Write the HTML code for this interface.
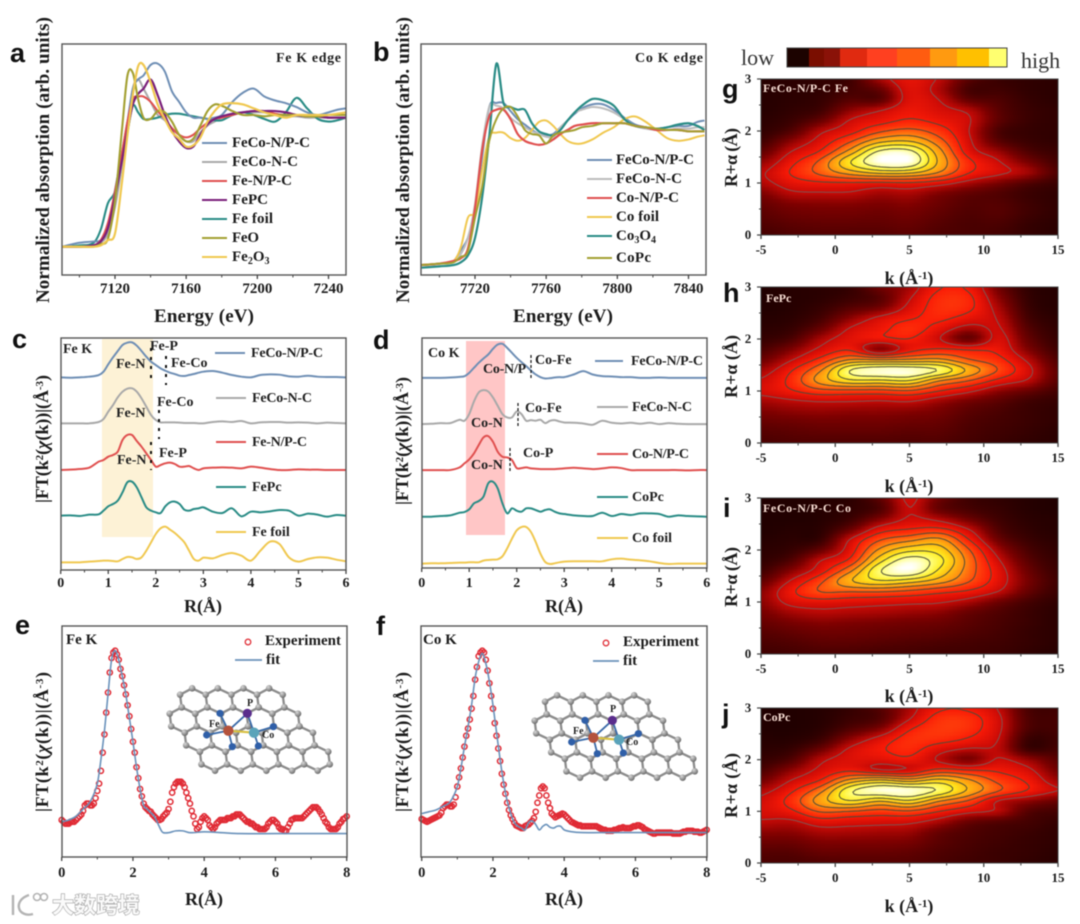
<!DOCTYPE html>
<html lang="en">
<head>
<meta charset="utf-8">
<title>XAS and EXAFS figure</title>
<style>
html,body{margin:0;padding:0;background:#fff;}
#figure{display:block;filter:blur(0.55px);}
text{font-family:"Liberation Serif","Noto Serif CJK SC",serif;font-weight:bold;fill:#1c1c1c;}
.letter{font-family:"Liberation Sans",sans-serif;font-size:27px;fill:#111;}
.axis{font-size:18px;}
.ytitle{font-size:19px;}
.leg{font-size:15px;}
.ann{font-size:14px;fill:#222;}
.atom{font-size:10px;fill:#222;}
.heat-title{font-size:12px;fill:#f6dcd2;}
.cb{font-weight:normal;font-size:22px;fill:#333;}
.frame{fill:none;stroke:#555;stroke-width:1.4;}
</style>
</head>
<body>
<svg id="figure" xmlns="http://www.w3.org/2000/svg" width="1080" height="924" viewBox="0 0 1080 924">
<defs>
<radialGradient id="atom-gray" cx="35%" cy="30%" r="75%"><stop offset="0" stop-color="#d8d8d8"/><stop offset="1" stop-color="#666"/></radialGradient>
<clipPath id="clip-g"><rect x="761" y="79" width="297" height="156"/></clipPath>
<clipPath id="clip-h"><rect x="761" y="287" width="297" height="156"/></clipPath>
<clipPath id="clip-i"><rect x="761" y="498" width="297" height="156"/></clipPath>
<clipPath id="clip-j"><rect x="761" y="708" width="297" height="155"/></clipPath>
</defs>
<rect x="0" y="0" width="1080" height="924" fill="#fff"/>

<!-- panel a -->
<g>
<text class="letter" x="10" y="62">a</text>
<g id="marks-a"></g>
<rect class="frame" x="62" y="44" width="284" height="231"/>
<g id="ticks-a"></g>
<text class="ytitle" transform="translate(49,303) rotate(-90)" textLength="286" lengthAdjust="spacing">Normalized absorption (arb. units)</text>
<text class="ytitle" x="204" y="322" text-anchor="middle" textLength="100">Energy (eV)</text>
<text class="ann" x="276" y="62" textLength="65">Fe K edge</text>
<g>
<path d="M202 143H227" stroke="#6f8fb5" stroke-width="2"/><text class="leg" x="232" y="147" textLength="78">FeCo-N/P-C</text>
<path d="M202 162H227" stroke="#a9a9a9" stroke-width="2"/><text class="leg" x="232" y="166" textLength="66">FeCo-N-C</text>
<path d="M202 181H227" stroke="#e0504f" stroke-width="2"/><text class="leg" x="232" y="185" textLength="60">Fe-N/P-C</text>
<path d="M202 200H227" stroke="#7a1f7a" stroke-width="2"/><text class="leg" x="232" y="204" textLength="36">FePC</text>
<path d="M202 219H227" stroke="#2a8c86" stroke-width="2"/><text class="leg" x="232" y="223" textLength="41">Fe foil</text>
<path d="M202 238H227" stroke="#a3a032" stroke-width="2"/><text class="leg" x="232" y="242" textLength="27">FeO</text>
<path d="M202 257H227" stroke="#f0c850" stroke-width="2"/><text class="leg" x="232" y="261">Fe<tspan dy="3" font-size="10">2</tspan><tspan dy="-3">O</tspan><tspan dy="3" font-size="10">3</tspan></text>
</g>
</g>

<!-- panel b -->
<g>
<text class="letter" x="373" y="61">b</text>
<g id="marks-b"></g>
<rect class="frame" x="421" y="44" width="285" height="231"/>
<g id="ticks-b"></g>
<text class="ytitle" transform="translate(409,303) rotate(-90)" textLength="286" lengthAdjust="spacing">Normalized absorption (arb. units)</text>
<text class="ytitle" x="563" y="322" text-anchor="middle" textLength="100">Energy (eV)</text>
<text class="ann" x="635" y="62" textLength="68">Co K edge</text>
<g>
<path d="M587 160H612" stroke="#6f8fb5" stroke-width="2"/><text class="leg" x="616" y="164" textLength="78">FeCo-N/P-C</text>
<path d="M587 179H612" stroke="#bdbdbd" stroke-width="2"/><text class="leg" x="616" y="183" textLength="66">FeCo-N-C</text>
<path d="M587 198H612" stroke="#e0504f" stroke-width="2"/><text class="leg" x="616" y="202" textLength="63">Co-N/P-C</text>
<path d="M587 217H612" stroke="#f0c850" stroke-width="2"/><text class="leg" x="616" y="221" textLength="43">Co foil</text>
<path d="M587 236H612" stroke="#2a8c86" stroke-width="2"/><text class="leg" x="616" y="240">Co<tspan dy="3" font-size="10">3</tspan><tspan dy="-3">O</tspan><tspan dy="3" font-size="10">4</tspan></text>
<path d="M587 258H612" stroke="#a3a032" stroke-width="2"/><text class="leg" x="616" y="262" textLength="35">CoPc</text>
</g>
</g>

<!-- panel c -->
<g>
<text class="letter" x="12" y="348">c</text>
<rect x="102" y="339" width="51" height="198" fill="#fdf2d6"/>
<g id="marks-c"></g>
<rect class="frame" x="61" y="338" width="285" height="232"/>
<g id="ticks-c"></g>
<text class="axis" transform="translate(48,503) rotate(-90)" textLength="128">|FT(k<tspan dy="-5" font-size="11">2</tspan><tspan dy="5">(</tspan><tspan font-style="italic">χ</tspan>(k))|(Å<tspan dy="-5" font-size="11">-3</tspan><tspan dy="5">)</tspan></text>
<text class="axis" x="203" y="612" text-anchor="middle">R(Å)</text>
<text class="ann" x="63" y="353">Fe K</text>
<text class="ann" x="150" y="350">Fe-P</text>
<text class="ann" x="116" y="368">Fe-N</text>
<text class="ann" x="171" y="367">Fe-Co</text>
<text class="ann" x="116" y="417">Fe-N</text>
<text class="ann" x="157" y="406">Fe-Co</text>
<text class="ann" x="117" y="464">Fe-N</text>
<text class="ann" x="159" y="457">Fe-P</text>
<g stroke="#111" stroke-width="2" stroke-dasharray="3 6" fill="none">
<path d="M151 348V382"/>
<path d="M166 356V385"/>
<path d="M159 410V439"/>
<path d="M151 442V470"/>
</g>
<g>
<path d="M215 353H245" stroke="#6f8fb5" stroke-width="2"/><text class="ann" x="251" y="357" textLength="72">FeCo-N/P-C</text>
<path d="M216 398H246" stroke="#a9a9a9" stroke-width="2"/><text class="ann" x="252" y="402" textLength="60">FeCo-N-C</text>
<path d="M216 442H246" stroke="#e0504f" stroke-width="2"/><text class="ann" x="252" y="446" textLength="55">Fe-N/P-C</text>
<path d="M216 487H246" stroke="#2a8c86" stroke-width="2"/><text class="ann" x="252" y="491">FePc</text>
<path d="M216 532H246" stroke="#f0c850" stroke-width="2"/><text class="ann" x="252" y="536">Fe foil</text>
</g>
</g>

<!-- panel d -->
<g>
<text class="letter" x="373" y="349">d</text>
<rect x="466" y="341" width="39" height="194" fill="#ffc6c6"/>
<g id="marks-d"></g>
<rect class="frame" x="422" y="338" width="285" height="230"/>
<g id="ticks-d"></g>
<text class="axis" transform="translate(408,505) rotate(-90)" textLength="128">|FT(k<tspan dy="-5" font-size="11">2</tspan><tspan dy="5">(</tspan><tspan font-style="italic">χ</tspan>(k))|(Å<tspan dy="-5" font-size="11">-3</tspan><tspan dy="5">)</tspan></text>
<text class="axis" x="564" y="612" text-anchor="middle">R(Å)</text>
<text class="ann" x="428" y="357">Co K</text>
<text class="ann" x="483" y="373" textLength="43">Co-N/P</text>
<text class="ann" x="535" y="364">Co-Fe</text>
<text class="ann" x="471" y="427">Co-N</text>
<text class="ann" x="525" y="412">Co-Fe</text>
<text class="ann" x="471" y="469">Co-N</text>
<text class="ann" x="523" y="457">Co-P</text>
<g stroke="#111" stroke-width="1.2" stroke-dasharray="3 2" fill="none">
<path d="M531 355V379"/>
<path d="M518 403V427"/>
<path d="M510 448V472"/>
</g>
<g>
<path d="M595 361H623" stroke="#6f8fb5" stroke-width="2"/><text class="ann" x="631" y="365" textLength="72">FeCo-N/P-C</text>
<path d="M597 407H628" stroke="#a9a9a9" stroke-width="2"/><text class="ann" x="632" y="411" textLength="60">FeCo-N-C</text>
<path d="M597 454H628" stroke="#e0504f" stroke-width="2"/><text class="ann" x="632" y="458" textLength="57">Co-N/P-C</text>
<path d="M597 497H628" stroke="#2a8c86" stroke-width="2"/><text class="ann" x="632" y="501">CoPc</text>
<path d="M597 538H628" stroke="#f0c850" stroke-width="2"/><text class="ann" x="632" y="542">Co foil</text>
</g>
</g>

<!-- panel e -->
<g>
<text class="letter" x="15" y="634">e</text>
<g id="marks-e"></g>
<g id="inset-e"></g>
<rect class="frame" x="62" y="626" width="285" height="231"/>
<g id="ticks-e"></g>
<text class="axis" transform="translate(48,812) rotate(-90)" textLength="140">|FT(k<tspan dy="-5" font-size="11">2</tspan><tspan dy="5">(</tspan><tspan font-style="italic">χ</tspan>(k))|(Å<tspan dy="-5" font-size="11">-3</tspan><tspan dy="5">)</tspan></text>
<text class="axis" x="204" y="905" text-anchor="middle">R(Å)</text>
<text class="leg" x="66" y="644">Fe K</text>
<circle cx="248" cy="642" r="2.8" fill="none" stroke="#e0323a" stroke-width="1.3"/>
<text class="leg" x="265" y="645" textLength="76">Experiment</text>
<path d="M235 660H262" stroke="#6a92bb" stroke-width="1.8"/>
<text class="leg" x="266" y="664">fit</text>
<text class="atom" x="209" y="727">Fe</text>
<text class="atom" x="247" y="706">P</text>
<text class="atom" x="262" y="738">Co</text>
</g>

<!-- panel f -->
<g>
<text class="letter" x="376" y="635">f</text>
<g id="marks-f"></g>
<g id="inset-f"></g>
<rect class="frame" x="421" y="626" width="286" height="231"/>
<g id="ticks-f"></g>
<text class="axis" transform="translate(408,812) rotate(-90)" textLength="140">|FT(k<tspan dy="-5" font-size="11">2</tspan><tspan dy="5">(</tspan><tspan font-style="italic">χ</tspan>(k))|(Å<tspan dy="-5" font-size="11">-3</tspan><tspan dy="5">)</tspan></text>
<text class="axis" x="564" y="905" text-anchor="middle">R(Å)</text>
<text class="leg" x="423" y="644">Co K</text>
<circle cx="606" cy="643" r="2.8" fill="none" stroke="#e0323a" stroke-width="1.3"/>
<text class="leg" x="623" y="646" textLength="76">Experiment</text>
<path d="M593 661H619" stroke="#6a92bb" stroke-width="1.8"/>
<text class="leg" x="623" y="665">fit</text>
<text class="atom" x="573" y="734">Fe</text>
<text class="atom" x="610" y="712">P</text>
<text class="atom" x="626" y="745">Co</text>
</g>

<!-- colour bar -->
<g>
<text class="cb" x="741" y="65">low</text>
<rect x="787" y="48" width="22" height="19" fill="#1c0300"/>
<rect x="809" y="48" width="15" height="19" fill="#7a0e00"/>
<rect x="824" y="48" width="17" height="19" fill="#8a1208"/>
<rect x="840" y="48" width="27" height="19" fill="#e02a10"/>
<rect x="867" y="48" width="30" height="19" fill="#ff4020"/>
<rect x="897" y="48" width="33" height="19" fill="#ff5c10"/>
<rect x="930" y="48" width="27" height="19" fill="#ff9a10"/>
<rect x="957" y="48" width="32" height="19" fill="#ffc000"/>
<rect x="989" y="48" width="18" height="19" fill="#ffff70"/>
<rect x="787" y="48" width="220" height="19" fill="none" stroke="#444" stroke-width="1"/>
<text class="cb" x="1021" y="68">high</text>
</g>

<!-- panel g -->
<g>
<text class="letter" x="722" y="98">g</text>
<g clip-path="url(#clip-g)"><g id="marks-g"></g></g>
<rect x="761" y="79" width="297" height="156" fill="none" stroke="#444" stroke-width="1"/>
<g id="ticks-g"></g>
<text class="heat-title" x="763" y="92" textLength="85">FeCo-N/P-C Fe</text>
<text class="axis" transform="translate(737,187) rotate(-90)" textLength="59">R+α (Å)</text>
<text class="axis" x="909" y="284" text-anchor="middle">k (Å<tspan dy="-5" font-size="11">-1</tspan><tspan dy="5">)</tspan></text>
</g>

<!-- panel h -->
<g>
<text class="letter" x="723" y="302">h</text>
<g clip-path="url(#clip-h)"><g id="marks-h"></g></g>
<rect x="761" y="287" width="297" height="156" fill="none" stroke="#444" stroke-width="1"/>
<g id="ticks-h"></g>
<text class="heat-title" x="766" y="302">FePc</text>
<text class="axis" transform="translate(737,398) rotate(-90)" textLength="63">R+α (Å)</text>
<text class="axis" x="909" y="492" text-anchor="middle">k (Å<tspan dy="-5" font-size="11">-1</tspan><tspan dy="5">)</tspan></text>
</g>

<!-- panel i -->
<g>
<text class="letter" x="723" y="517">i</text>
<g clip-path="url(#clip-i)"><g id="marks-i"></g></g>
<rect x="761" y="498" width="297" height="156" fill="none" stroke="#444" stroke-width="1"/>
<g id="ticks-i"></g>
<text class="heat-title" x="763" y="512" textLength="88">FeCo-N/P-C Co</text>
<text class="axis" transform="translate(737,607) rotate(-90)" textLength="60">R+α (Å)</text>
<text class="axis" x="909" y="702" text-anchor="middle">k (Å<tspan dy="-5" font-size="11">-1</tspan><tspan dy="5">)</tspan></text>
</g>

<!-- panel j -->
<g>
<text class="letter" x="722" y="723">j</text>
<g clip-path="url(#clip-j)"><g id="marks-j"></g></g>
<rect x="761" y="708" width="297" height="155" fill="none" stroke="#444" stroke-width="1"/>
<g id="ticks-j"></g>
<text class="heat-title" x="763" y="721">CoPc</text>
<text class="axis" transform="translate(737,818) rotate(-90)" textLength="65">R+α (Å)</text>
<text class="axis" x="909" y="912" text-anchor="middle">k (Å<tspan dy="-5" font-size="11">-1</tspan><tspan dy="5">)</tspan></text>
</g>

<!-- watermark -->
<g>
<g fill="none" stroke="#b4b4b4" stroke-width="2.4">
<path d="M13 895V915M29 895C20 898 18 904 19 908C20 913 26 916 33 914"/>
<circle cx="37" cy="897" r="3.5" stroke-width="1.6"/>
<circle cx="44" cy="897" r="3.5" stroke-width="1.6"/>
</g>
<text x="52" y="913" font-size="22" textLength="88" style="font-family:'Liberation Sans','Noto Sans CJK SC',sans-serif;fill:#fafafa;stroke:#a4a4a4;stroke-width:1.2;paint-order:stroke;">大数跨境</text>
</g>
</svg>

<script>
// ---------- panel a values (normalized absorption vs energy, eV) ----------
const aEnergy = [7090,7100,7108,7112,7116,7120,7124,7127,7130,7133,7136,7140,7144,7148,7152,7156,7160,7164,7168,7172,7176,7180,7186,7192,7198,7204,7210,7216,7222,7228,7234,7240,7245,7250];
const aFeCoNPC = [0,.03,.04,.05,.14,.43,.72,.95,1.2,1.27,1.3,1.38,1.39,1.33,1.18,1.1,1.02,.98,.98,.97,.98,1,1.1,1.17,1.2,1.14,1.11,1.09,1.06,1.02,1,1.02,1.04,1.05];
const aFeCoNC = [0,0,.01,.03,.1,.3,.62,.9,1.2,1.27,1.2,1.1,1,.96,.9,.85,.8,.8,.87,.92,.95,.98,1,1.02,1.02,1.02,1,.99,.99,.98,.98,.98,.98,.98];
const aFeNPC = [0,0,.01,.05,.18,.42,.72,.95,1.12,1.14,1.14,1.1,1.03,.97,.9,.85,.83,.85,.9,.94,.97,.98,1,1.02,1.03,1.03,1.01,1,1,.99,.99,.98,.98,.98];
const aFePC = [0,0,.01,.04,.14,.38,.66,.88,1.08,1.16,1.2,1.27,1.15,1,.88,.8,.75,.76,.85,.93,.97,.99,1.01,1.02,1.03,1.03,1.03,1.02,1,.99,.99,.98,.98,.98];
const aFeFoil = [0,.01,.03,.13,.33,.42,.68,.87,1.07,1.02,.97,.97,.98,1,1.01,1.01,1,.99,.98,.97,.96,.96,1,1.02,1,.97,.95,1.02,1.13,1.05,.97,.95,.96,.98];
const aFeO = [0,0,0,.02,.06,.35,.9,1.3,1.32,1.12,.98,.97,1.03,1.02,.95,.85,.8,.82,.92,1.03,1.08,1.07,1.03,1,1,.99,1,1,1,.99,.99,1,1,1];
const aFe2O3 = [0,0,0,.01,.05,.1,.5,.85,1.15,1.37,1.38,1.25,1.08,.97,.87,.82,.76,.77,.83,.95,1.03,1.08,1.09,1.08,1.05,1.02,1,.98,1,1,1,1,1.01,1.02];
const aTickValues = [7120,7160,7200,7240];
const aMinorTicks = [7100,7140,7180,7220];

// ---------- panel b values ----------
const bEnergy = [7690,7700,7708,7712,7716,7720,7724,7728,7732,7736,7740,7744,7748,7752,7756,7760,7764,7768,7772,7776,7780,7786,7792,7798,7804,7810,7816,7822,7828,7834,7840,7845,7849];
const bFeCoNPC = [0,.01,.03,.11,.2,.42,.8,1.17,1.2,1.2,1.14,1.08,1.04,1,.97,.96,.97,1.02,1.07,1.12,1.16,1.19,1.19,1.15,1.09,1.04,1.02,1.01,1.02,1.03,1.03,1.06,1.07];
const bFeCoNC = [0,.01,.03,.08,.2,.45,.88,1.17,1.18,1.16,1.09,1.05,1.02,.99,.97,.95,.95,1.02,1.07,1.13,1.15,1.17,1.16,1.13,1.08,1.03,1.01,1,1,1.01,1.01,1.02,1.02];
const bCoNPC = [0,.01,.03,.05,.12,.42,.85,1.1,1.15,1.15,1.08,.97,.92,.9,.89,.9,.93,.97,1,1.03,1.04,1.05,1.05,1.05,1.05,1.03,1.02,1,1,1,.99,.99,.99];
const bCoFoil = [0,.01,.03,.13,.35,.4,.7,.95,.98,.98,.94,.92,.94,1,1.06,1.07,1.03,.97,.92,.9,.9,.93,.98,1.02,1.08,1.1,1.06,1,.94,.92,.93,.95,.96];
const bCo3O4 = [-.02,-.01,0,.02,.07,.2,.5,.95,1.49,1.2,1.17,1.15,1.15,1.05,.99,.97,.96,1,1.07,1.13,1.18,1.23,1.22,1.18,1.08,1.03,1.02,1.01,1.02,1.04,1.05,1.03,1];
const bCoPc = [0,.01,.02,.06,.1,.35,.58,.92,1.08,1.16,1.17,1.1,1,.97,.96,.9,.96,.98,.99,1,1.02,1.03,1.05,1.05,1.05,1.03,1.02,1.01,1,1,.99,.99,.99];
const bTickValues = [7720,7760,7800,7840];
const bMinorTicks = [7700,7740,7780,7820];

// ---------- panels c, d values (height above each stacked baseline) ----------
const ftR = [0,.2,.4,.6,.8,.9,1,1.1,1.2,1.3,1.4,1.5,1.6,1.7,1.8,1.9,2,2.1,2.2,2.3,2.4,2.5,2.6,2.7,2.8,2.9,3,3.2,3.4,3.6,3.8,4,4.2,4.4,4.6,4.8,5,5.2,5.4,5.6,5.8,6];
const cOffsets = [5.78,4.40,3.00,1.63,.23];
const cFeCoNPC = [0,-.01,0,.02,.07,.17,.39,.6,.79,.97,1.04,1.05,.95,.79,.62,.47,.37,.27,.2,.14,.1,.05,.04,.07,.1,.14,.17,.19,.14,.07,.02,0,.07,.09,.08,.03,.02,.05,.02,.01,.01,0];
const cFeCoNC = [0,0,0,0,.04,.13,.35,.55,.78,.95,1.04,1.05,.95,.75,.5,.25,.1,.03,.03,.03,.03,.02,.01,.01,.01,0,0,.04,.06,.04,.07,0,.03,.04,.04,.02,.03,.02,0,.02,.01,0];
const cFeNPC = [0,.01,.03,.07,.25,.3,.4,.45,.55,.9,1.05,1.05,.87,.7,.5,.3,.1,.15,.2,.22,.18,.1,.1,.12,.05,0,.05,.07,.08,.07,.05,.1,.07,.03,0,0,.02,.01,.01,0,0,0];
const cFePc = [0,.01,-.01,.03,.04,.15,.28,.35,.45,.7,1,1.02,.85,.55,.25,.15,.1,.08,.28,.4,.42,.35,.18,.15,.2,.22,.25,.12,.08,.22,-.02,.12,.1,.13,.17,.15,0,.06,.03,-.03,.02,0];
const cFeFoil = [0,0,0,.02,.04,.05,.05,.04,.03,.1,.16,.15,.1,.15,.35,.6,.85,1.02,1.07,.98,.88,.75,.6,.35,.1,.05,.14,.12,.22,.28,.2,.05,.35,.62,.55,.15,.02,.1,.15,.14,.08,.03];
const dOffsets = [5.72,4.33,2.95,1.55,.14];
const dFeCoNPC = [0,0,0,.01,.03,.05,.15,.3,.45,.58,.7,.87,1,1.02,.9,.75,.6,.47,.35,.22,.1,.02,-.02,-.01,.01,.02,.02,.1,.2,.1,.05,.04,.02,.02,0,0,.01,0,0,0,0,0];
const dFeCoNC = [0,.01,.03,.03,.13,.1,.3,.68,.95,1.02,.98,.8,.55,.3,.2,.2,.38,.3,.1,.12,.1,.13,.03,.1,.12,.08,.05,.04,.02,-.02,.1,.04,.02,.04,.01,.04,0,.03,.01,0,0,0];
const dCoNPC = [0,0,0,0,.08,.2,.32,.5,.75,.98,1.02,.85,.55,.4,.38,.3,.06,.06,.08,.05,.04,.03,.03,.03,.03,.04,.05,.07,.05,.03,.05,.08,.06,0,0,0,0,0,0,-.01,0,0];
const dCoPc = [0,0,.02,.04,.12,.14,.22,.4,.47,.6,1,1.05,.85,.4,.1,.25,.18,.15,.25,.25,.2,.15,.2,.22,.15,.1,.08,.04,.02,.02,.12,.02,.08,.05,.1,.1,.08,0,.04,.02,.01,0];
const dCoFoil = [0,.01,.01,.02,.03,.03,.04,.04,.04,.09,.11,.12,.13,.22,.46,.75,1,1.1,1.1,.95,.65,.3,.05,-.01,.01,.04,.06,.07,.07,.07,.07,.13,.15,.12,.1,.07,.02,-.01,0,0,0,0];
const ftTickValues = [0,1,2,3,4,5,6];
const ftMinorTicks = [.5,1.5,2.5,3.5,4.5,5.5];

// ---------- panels e, f values ----------
const fitStep = 0.05;
const eExperiment = [.07,.06,.05,.05,.05,.06,.06,.06,.07,.08,.09,.10,.12,.15,.16,.16,.15,.15,.16,.19,.23,.27,.34,.44,.54,.66,.77,.88,.96,.99,1,.98,.95,.90,.86,.81,.76,.70,.64,.57,.50,.44,.36,.30,.24,.20,.16,.14,.13,.12,.115,.10,.09,.08,.07,.07,.075,.09,.10,.11,.13,.17,.22,.25,.27,.28,.28,.28,.27,.25,.22,.19,.16,.12,.09,.05,.02,.03,.06,.08,.09,.08,.07,.04,.03,.02,.03,.05,.06,.07,.07,.07,.07,.08,.08,.08,.09,.09,.10,.10,.10,.09,.08,.07,.06,.06,.05,.05,.04,.03,.03,.02,.02,.02,.02,.03,.05,.06,.07,.07,.06,.05,.03,.02,.02,.01,.01,.03,.05,.07,.075,.08,.08,.08,.08,.08,.09,.10,.11,.12,.13,.14,.14,.14,.13,.115,.10,.08,.06,.05,.03,.02,.02,.02,.02,.03,.05,.06,.075,.08,.09];
const eFitR = [0,.2,.4,.6,.8,1,1.1,1.2,1.3,1.4,1.5,1.6,1.7,1.8,1.9,2,2.1,2.2,2.3,2.4,2.5,2.6,2.7,2.8,2.85,3,3.2,3.4,3.6,4,4.5,5,6,7,8];
const eFit = [.06,.07,.09,.13,.17,.27,.40,.56,.76,.95,1,.95,.86,.76,.63,.5,.36,.24,.15,.13,.11,.09,.05,.01,0,0,.01,.01,0,.005,0,-.005,-.005,-.005,-.005];
const fExperiment = [.07,.065,.06,.055,.06,.065,.07,.075,.08,.085,.09,.105,.13,.14,.15,.15,.14,.14,.15,.19,.25,.3,.35,.41,.47,.53,.57,.62,.68,.75,.84,.91,.97,.99,1,.99,.95,.89,.82,.75,.68,.6,.53,.46,.39,.32,.26,.21,.16,.12,.09,.07,.05,.035,.03,.025,.02,.02,.03,.035,.04,.05,.06,.075,.11,.16,.2,.24,.25,.24,.2,.16,.13,.1,.09,.08,.085,.09,.095,.1,.095,.085,.075,.065,.055,.05,.045,.04,.035,.035,.03,.03,.03,.03,.03,.03,.03,.03,.03,.025,.02,.015,.01,.01,.005,.005,.005,.005,.01,.01,.015,.02,.02,.025,.02,.02,.02,.02,.025,.03,.03,.035,.035,.03,.025,.015,.01,.005,0,-.005,-.01,-.01,-.005,-.005,-.005,-.005,-.005,-.005,-.005,-.005,-.005,-.01,-.01,-.01,-.01,-.01,-.005,0,0,.005,.005,.005,.005,0,0,0,-.005,-.005,0,.005,.01];
const fFitR = [0,.2,.4,.6,.8,1,1.1,1.2,1.3,1.4,1.5,1.6,1.7,1.8,1.9,2,2.1,2.2,2.3,2.4,2.5,2.6,2.7,2.8,2.9,3,3.1,3.2,3.3,3.4,3.5,3.6,3.7,3.8,3.9,4,4.2,4.5,5,6,7,8];
const fFit = [.1,.11,.12,.14,.165,.25,.35,.47,.58,.7,.85,.94,.985,.93,.83,.7,.55,.4,.27,.17,.1,.05,.03,.02,.01,.05,.06,.04,.01,.03,.04,.025,.02,.03,.03,.01,0,-.005,-.005,-.005,-.005,-.005];
const fitTickValues = [0,2,4,6,8];
const fitMinorTicks = [1,3,5,7];

// ---------- heatmap values: one column per k, each listing intensity from R = 3.0 down to R = 0 in 0.2 steps ----------
const heatK = [-5,-3,-1,1,3,5,7,9,11,13,15];
const heatR = [3,2.8,2.6,2.4,2.2,2,1.8,1.6,1.4,1.2,1,.8,.6,.4,.2,0];
const heatG = [
[.4,.4,.4,.4,.5,.6,.9,1.5,2.3,2.9,2.7,2,1.6,1.4,1.2,1],
[.5,.5,.5,.6,.8,1.2,2.2,3,3.7,4.1,3.5,2.8,2,1.7,1.4,1.2],
[.6,.6,.7,.9,1.6,2.8,3.4,4.1,5.3,5.3,3.8,2.9,2.1,1.8,1.5,1.3],
[.9,1,1.3,2.2,3.1,3.6,4.9,6.4,8.1,6.5,3.8,2.9,2.1,1.8,1.5,1.3],
[2.6,1.6,1.3,3,3.6,4.8,6.7,9.3,10,7.3,3.7,2.5,2,1.7,1.5,1.3],
[3.6,3.4,3.4,3.7,4.1,5.3,7,9.4,10,7.2,3.8,2.6,2.1,1.8,1.6,1.4],
[2.9,2.6,3,3.3,3.7,4.5,5.4,6.4,6.8,6,3.4,2,1.7,1.5,1.3,1.2],
[1.4,1,1.5,2.8,3.1,3,3.2,3.5,4.3,4.1,2.6,1.5,1.3,1.2,1.1,1.1],
[.8,.9,1.2,1.4,1.5,1.1,1.4,2.4,3.1,3.3,1.9,1.2,1.3,1.3,1.1,1],
[.6,.6,.7,.8,.8,.7,.8,1.2,1.9,2.6,1.2,.8,.9,.9,.7,.7],
[.5,.5,.5,.6,.6,.6,.6,.8,1,1.2,.8,.6,.6,.6,.5,.5]
];
const heatH = [
[.3,.3,.3,.4,.5,.7,1.1,1.7,2.5,3.1,3.3,2.5,2,1.6,1.3,1.1],
[.4,.4,.4,.5,.7,1.1,2,2.9,3.9,4.3,3.9,2.8,2.2,1.7,1.4,1.2],
[.5,.5,.7,1,1.6,2.6,3.2,4.3,5.9,6.5,4.6,3,2.3,1.8,1.5,1.2],
[.7,.8,1.3,2.2,3.1,3.5,3.8,6,9.2,7.8,4.6,3,2.2,1.8,1.5,1.2],
[1.8,1.3,1.8,3.3,3.7,3.9,1.8,6,10,7.8,4.6,2.9,2.2,1.8,1.5,1.2],
[2.5,2.9,3.3,3.9,4.4,4,3.5,6.1,10,8,4.8,3,2.1,1.7,1.4,1.2],
[3.9,4.3,4.4,4.2,3.6,3,4.1,6.2,9.2,6,4,2.4,1.9,1.6,1.4,1.2],
[3.8,4.2,4.2,3.6,2.6,1.4,4,5,6.9,5,3.2,1.8,1.4,1.2,1.1,1],
[1.8,2.2,2.6,2.9,3.1,3.3,3.7,4.3,5,3.7,2.2,1.4,1.1,1,.9,.8],
[.6,.7,.8,1,1.3,1.6,2,2.8,3.3,2.9,1.6,.9,.8,.8,.7,.6],
[.4,.4,.4,.5,.6,.7,.9,1.2,1.5,1.4,1,.7,.6,.6,.5,.5]
];
const heatI = [
[.3,.3,.3,.3,.4,.5,.6,.9,1.5,2.2,2.2,1.9,1.6,1.3,1.1,.9],
[.3,.3,.3,.4,.5,.7,1.2,2.1,3.1,3.8,3.3,2.5,1.9,1.5,1.2,1],
[.4,.4,.4,.5,.7,1.6,3,3.5,4.8,5.1,3.5,2.8,2.1,1.7,1.4,1.1],
[.5,.6,.8,1.6,3.1,3.5,4.2,5.8,7,5,3.4,2.7,2,1.7,1.4,1.1],
[1.5,1.1,2,3.5,4.9,6.2,7.6,9,7.9,5,3.3,2.6,1.9,1.6,1.3,1],
[3.2,3,3.1,4,5.7,7.7,9.6,10,7.4,4.7,3.2,2.4,1.8,1.5,1.2,1],
[1.8,1.5,2.7,4.2,6.3,7.5,8.4,7.8,6.5,4.2,3.1,2.2,1.7,1.4,1.1,.9],
[.9,1,1.7,3,4,5.1,5.6,5.5,5.1,3.8,2.6,1.6,1.4,1.2,1,.9],
[.6,.7,.9,1.2,1.7,2.5,3.1,3.5,3.5,3,1.7,1.2,1.1,1,.9,.8],
[.4,.4,.5,.6,.8,1.1,1.4,1.7,1.9,1.6,1,.8,.8,.7,.7,.6],
[.3,.3,.4,.4,.5,.6,.7,.8,.9,.8,.6,.5,.5,.5,.5,.4]
];
const heatJ = [
[.3,.3,.3,.4,.5,.7,1.1,1.8,2.7,3.2,3.3,2.9,2.2,1.7,1.3,1.1],
[.3,.3,.3,.4,.7,1.2,2.2,3,3.8,4.4,3.8,2.8,2.2,1.7,1.3,1.1],
[.4,.4,.5,.8,1.7,2.8,3.2,4,5.7,6.6,5.1,3.5,2.6,2,1.6,1.2],
[.7,.8,1.2,2.2,3.2,3.4,3.7,6.3,8.9,8,4.9,3.4,2.6,2,1.6,1.3],
[1.3,1.2,2,3.4,3.9,3.5,2.8,7.2,10,7,4.6,3.3,2.5,2,1.6,1.3],
[2.6,2.9,3.9,4.4,4.3,3.8,3,6.5,10,7.8,4.8,3.2,2.4,1.9,1.5,1.3],
[3.8,4.4,4.6,4.4,3.4,2.8,4.2,7.4,9,6,4,2.6,1.6,1.4,1.2,1.1],
[3.8,4.4,4.4,3.9,2.9,1.8,4,6.2,6.9,4.8,3.3,1.6,1.2,1.1,1,.9],
[2.9,3.2,3.2,3,2.8,3.1,3.8,4.7,5.2,2.8,2.9,1.2,1,.9,.8,.8],
[1.1,1.2,1.2,.8,.8,2.4,3.2,3.8,4,2.2,1.3,1,.8,.7,.7,.6],
[.9,1,1,.9,1,1.4,1.8,2.4,3.1,1.6,1,.7,.6,.6,.5,.5]
];
const heatXTicks = [-5,0,5,10,15];
const heatXMinor = [-2.5,2.5,7.5,12.5];
const heatYTicks = [0,1,2,3];
const heatYMinor = [.5,1.5,2.5];
const contourLevels = [3,4,5,6,7,8,9];
const colorStops = ['#120000','#440000','#7c0000','#c80a06','#fa1a06','#ff4a0c','#ff8c10','#ffbc10','#ffee20','#ffff80','#ffffff'];

// ---------- helpers ----------
const NS = 'http://www.w3.org/2000/svg';
function el(tag, parent, name, attrs) {
  const e = document.createElementNS(NS, tag);
  for (const k in attrs) e.setAttribute(k, attrs[k]);
  
  
  parent.appendChild(e);
  return e;
}
function byId(id) { return document.getElementById(id); }
function linear(d0, d1, r0, r1) { return function (v) { return r0 + (v - d0) * (r1 - r0) / (d1 - d0); }; }

function smoothPath(xs, ys, fx, fy) {
  const n = xs.length;
  const px = xs.map(fx), py = ys.map(fy);
  const m = [];
  for (let i = 0; i < n; i++) {
    const a = Math.max(0, i - 1), b = Math.min(n - 1, i + 1);
    m.push((py[b] - py[a]) / (px[b] - px[a]));
  }
  let d = 'M' + px[0].toFixed(2) + ' ' + py[0].toFixed(2);
  for (let i = 0; i < n - 1; i++) {
    const h = (px[i + 1] - px[i]) / 3;
    d += 'C' + (px[i] + h).toFixed(2) + ' ' + (py[i] + m[i] * h).toFixed(2) + ' ' + (px[i + 1] - h).toFixed(2) + ' ' + (py[i + 1] - m[i + 1] * h).toFixed(2) + ' ' + px[i + 1].toFixed(2) + ' ' + py[i + 1].toFixed(2);
  }
  return d;
}
function curve(parent, name, xs, ys, fx, fy, color, width) {
  el('path', parent, name, { d: smoothPath(xs, ys, fx, fy), fill: 'none', stroke: color, 'stroke-width': width, 'stroke-linejoin': 'round' });
}
function xAxis(parent, fx, yAxis, labelY, majors, minors, size) {
  majors.forEach(function (v) {
    el('path', parent, 'x-tick-' + v, { d: 'M' + fx(v) + ' ' + yAxis + 'v4', stroke: '#444', 'stroke-width': 1.3 });
    const t = el('text', parent, 'x-tick-label-' + v, { x: fx(v), y: labelY, 'text-anchor': 'middle', 'font-size': size });
    t.textContent = v;
  });
  minors.forEach(function (v) {
    el('path', parent, 'x-minor-tick-' + v, { d: 'M' + fx(v) + ' ' + yAxis + 'v2.5', stroke: '#444', 'stroke-width': 1 });
  });
}

// ---------- panels a, b ----------
(function () {
  const fxA = linear(7120, 7240, 115, 328.5), fyA = linear(0, 1, 246.7, 115);
  const gA = byId('marks-a');
  curve(gA, 'curve-feco-n-c', aEnergy, aFeCoNC, fxA, fyA, '#a9a9a9', 2);
  curve(gA, 'curve-fe-foil', aEnergy, aFeFoil, fxA, fyA, '#2a8c86', 2.1);
  curve(gA, 'curve-feco-n-p-c', aEnergy, aFeCoNPC, fxA, fyA, '#6f8fb5', 2);
  curve(gA, 'curve-fe-n-p-c', aEnergy, aFeNPC, fxA, fyA, '#e0504f', 2);
  curve(gA, 'curve-fepc', aEnergy, aFePC, fxA, fyA, '#7a1f7a', 2.2);
  curve(gA, 'curve-feo', aEnergy, aFeO, fxA, fyA, '#a3a032', 2.1);
  curve(gA, 'curve-fe2o3', aEnergy, aFe2O3, fxA, fyA, '#f0c850', 2.2);
  xAxis(byId('ticks-a'), fxA, 275, 293, aTickValues, aMinorTicks, 15);

  const fxB = linear(7720, 7840, 475, 688.5), fyB = linear(0, 1, 265, 130);
  const gB = byId('marks-b');
  curve(gB, 'curve-feco-n-p-c', bEnergy, bFeCoNPC, fxB, fyB, '#6f8fb5', 2);
  curve(gB, 'curve-feco-n-c', bEnergy, bFeCoNC, fxB, fyB, '#bdbdbd', 2);
  curve(gB, 'curve-co-foil', bEnergy, bCoFoil, fxB, fyB, '#f0c850', 2);
  curve(gB, 'curve-co3o4', bEnergy, bCo3O4, fxB, fyB, '#2a8c86', 2.2);
  curve(gB, 'curve-co-n-p-c', bEnergy, bCoNPC, fxB, fyB, '#e0504f', 2.2);
  curve(gB, 'curve-copc', bEnergy, bCoPc, fxB, fyB, '#a3a032', 2);
  xAxis(byId('ticks-b'), fxB, 275, 293, bTickValues, bMinorTicks, 15);
})();

// ---------- panels c, d ----------
(function () {
  const colors = ['#6f8fb5', '#a9a9a9', '#e0504f', '#2a8c86', '#f0c850'];
  const cNames = ['curve-feco-n-p-c', 'curve-feco-n-c', 'curve-fe-n-p-c', 'curve-fepc', 'curve-fe-foil'];
  const cData = [cFeCoNPC, cFeCoNC, cFeNPC, cFePc, cFeFoil];
  const fxC = linear(0, 6, 60.7, 346), fyC = linear(0, 1, 570, 536.67);
  cData.forEach(function (s, i) {
    curve(byId('marks-c'), cNames[i], ftR, s.map(function (v) { return v + cOffsets[i]; }), fxC, fyC, colors[i], 2);
  });
  xAxis(byId('ticks-c'), fxC, 570, 587, ftTickValues, ftMinorTicks, 14);

  const dNames = ['curve-feco-n-p-c', 'curve-feco-n-c', 'curve-co-n-p-c', 'curve-copc', 'curve-co-foil'];
  const dData = [dFeCoNPC, dFeCoNC, dCoNPC, dCoPc, dCoFoil];
  const fxD = linear(0, 6, 421.7, 706.7), fyD = linear(0, 1, 568.3, 535);
  dData.forEach(function (s, i) {
    curve(byId('marks-d'), dNames[i], ftR, s.map(function (v) { return v + dOffsets[i]; }), fxD, fyD, colors[i], 2);
  });
  xAxis(byId('ticks-d'), fxD, 568, 587, ftTickValues, ftMinorTicks, 14);
})();

// ---------- panels e, f ----------
(function () {
  function fitPanel(g, exp, fitR, fit, fx, fy) {
    exp.forEach(function (v, i) {
      el('circle', g, 'experiment-point', { cx: fx(i * fitStep), cy: fy(v), r: 2.6, fill: 'none', stroke: '#e02a34', 'stroke-width': 1.5 });
    });
    curve(g, 'fit-line', fitR, fit, fx, fy, '#6a92bb', 1.6);
  }
  const fxE = linear(0, 8, 61.7, 346.7), fyE = linear(0, 1, 832.7, 650.7);
  fitPanel(byId('marks-e'), eExperiment, eFitR, eFit, fxE, fyE);
  xAxis(byId('ticks-e'), fxE, 857, 877, fitTickValues, fitMinorTicks, 14.5);
  const fxF = linear(0, 8, 421.7, 706.7), fyF = linear(0, 1, 831.7, 650.7);
  fitPanel(byId('marks-f'), fExperiment, fFitR, fFit, fxF, fyF);
  xAxis(byId('ticks-f'), fxF, 857, 877, fitTickValues, fitMinorTicks, 14.5);
})();

// ---------- structure insets ----------
(function () {
  const hexRows = [
    { cy: 273, cx: [581, 658, 735, 812] },
    { cy: 330, cx: [543, 620, 697, 774, 851] },
    { cy: 387, cx: [581, 658, 735, 812, 889] },
    { cy: 444, cx: [620, 697, 774, 851, 928] }
  ];
  const hw = 38.5, s = 38, skew = 0.12;
  function draw(g, dx, dy) {
    const P = function (x, y) { return [(x + (y - 273) * skew) / 3 + dx, y / 3 + dy]; };
    const atoms = {};
    let bonds = '';
    hexRows.forEach(function (row) {
      row.cx.forEach(function (cx) {
        const vs = [[cx, row.cy - s], [cx + hw, row.cy - s / 2], [cx + hw, row.cy + s / 2], [cx, row.cy + s], [cx - hw, row.cy + s / 2], [cx - hw, row.cy - s / 2]];
        const pts = vs.map(function (v) { return P(v[0], v[1]); });
        pts.forEach(function (p) { atoms[p[0].toFixed(1) + ',' + p[1].toFixed(1)] = p; });
        bonds += 'M' + pts.map(function (p) { return p[0].toFixed(1) + ' ' + p[1].toFixed(1); }).join('L') + 'Z';
      });
    });
    el('path', g, 'graphene-bonds', { d: bonds, fill: 'none', stroke: '#8c8c8c', 'stroke-width': 2.3 });
    Object.keys(atoms).forEach(function (k) {
      el('circle', g, 'carbon-atom', { cx: atoms[k][0], cy: atoms[k][1], r: 3.3, fill: 'url(#atom-gray)' });
    });
    const Q = function (x, y) { return [x / 3 + dx, y / 3 + dy]; };
    const fe = Q(685, 362), co = Q(762, 368), p = Q(742, 310);
    const ns = [Q(660, 310), Q(620, 375), Q(697, 410), Q(775, 408), Q(820, 350)];
    const line = function (a, b, c, w, name) { el('path', g, name, { d: 'M' + a[0] + ' ' + a[1] + 'L' + b[0] + ' ' + b[1], stroke: c, 'stroke-width': w }); };
    line(fe, ns[0], '#3a6aa8', 1.8, 'fe-n-bond');
    line(fe, ns[1], '#3a6aa8', 1.8, 'fe-n-bond');
    line(fe, ns[2], '#3a6aa8', 1.8, 'fe-n-bond');
    line(co, ns[3], '#3a6aa8', 1.8, 'co-n-bond');
    line(co, ns[4], '#3a6aa8', 1.8, 'co-n-bond');
    line(fe, p, '#3a6aa8', 1.8, 'fe-p-bond');
    line(co, p, '#3a6aa8', 1.8, 'co-p-bond');
    line(fe, co, '#d8c040', 2.2, 'fe-co-bond');
    ns.forEach(function (n) { el('circle', g, 'nitrogen-atom', { cx: n[0], cy: n[1], r: 3.6, fill: '#2f5fa8' }); });
    el('circle', g, 'iron-atom', { cx: fe[0], cy: fe[1], r: 5.2, fill: '#b4523c' });
    el('circle', g, 'cobalt-atom', { cx: co[0], cy: co[1], r: 5.2, fill: '#5aa3ba' });
    el('circle', g, 'phosphorus-atom', { cx: p[0], cy: p[1], r: 4.6, fill: '#5a2d8c' });
  }
  draw(byId('inset-e'), 0, 610);
  draw(byId('inset-f'), 365, 617);
})();

// ---------- heatmaps ----------
(function () {
  function cr(p0, p1, p2, p3, t) {
    return 0.5 * (2 * p1 + (p2 - p0) * t + (2 * p0 - 5 * p1 + 4 * p2 - p3) * t * t + (3 * p1 - p0 - 3 * p2 + p3) * t * t * t);
  }
  function sampler(grid) {
    const nc = heatK.length, nr = heatR.length;
    const kStep = heatK[1] - heatK[0], rStep = heatR[0] - heatR[1];
    return function (k, R) {
      const u = Math.max(0, Math.min(nc - 1.001, (k - heatK[0]) / kStep));
      const v = Math.max(0, Math.min(nr - 1.001, (heatR[0] - R) / rStep));
      const i = Math.floor(u), j = Math.floor(v), tu = u - i, tv = v - j;
      const rowVals = [];
      for (let dj = -1; dj <= 2; dj++) {
        const rj = Math.max(0, Math.min(nr - 1, j + dj));
        rowVals.push(cr(
          grid[Math.max(0, i - 1)][rj], grid[i][rj],
          grid[Math.min(nc - 1, i + 1)][rj], grid[Math.min(nc - 1, i + 2)][rj], tu));
      }
      return cr(rowVals[0], rowVals[1], rowVals[2], rowVals[3], tv);
    };
  }
  function smoothField(field) {
    const ny = field.length, nx = field[0].length;
    let cur = field;
    for (let pass = 0; pass < 3; pass++) {
      const a = [], b = [];
      for (let j = 0; j < ny; j++) {
        const r = [];
        for (let i = 0; i < nx; i++) {
          r.push((cur[j][Math.max(0, i - 1)] + 2 * cur[j][i] + cur[j][Math.min(nx - 1, i + 1)]) / 4);
        }
        a.push(r);
      }
      for (let j = 0; j < ny; j++) {
        const r = [];
        for (let i = 0; i < nx; i++) {
          r.push((a[Math.max(0, j - 1)][i] + 2 * a[j][i] + a[Math.min(ny - 1, j + 1)][i]) / 4);
        }
        b.push(r);
      }
      cur = b;
    }
    return cur;
  }
  function hexRgb(h) { return [parseInt(h.substr(1, 2), 16), parseInt(h.substr(3, 2), 16), parseInt(h.substr(5, 2), 16)]; }
  const stopsRgb = colorStops.map(hexRgb);
  function colorOf(v) {
    const c = Math.max(0, Math.min(9.999, v));
    const i = Math.floor(c), t = c - i, a = stopsRgb[i], b = stopsRgb[i + 1];
    return 'rgb(' + Math.round(a[0] + (b[0] - a[0]) * t) + ',' + Math.round(a[1] + (b[1] - a[1]) * t) + ',' + Math.round(a[2] + (b[2] - a[2]) * t) + ')';
  }
  function heatmap(letter, grid, top, bottom, xLabelY) {
    const g = byId('marks-' + letter);
    const f = sampler(grid);
    const fx = linear(-5, 15, 761, 1058), fy = linear(0, 3, bottom, top);
    const ix = linear(761, 1058, -5, 15), iy = linear(bottom, top, 0, 3);
    const step = 2, pad = 8;
    const x0f = 761 - pad, y0f = top - pad;
    const nx = Math.round((297 + 2 * pad) / step), ny = Math.round((bottom - top + 2 * pad) / step);
    const raw = [];
    for (let j = 0; j <= ny; j++) {
      const row = [];
      for (let i = 0; i <= nx; i++) row.push(f(ix(x0f + i * step), iy(y0f + j * step)));
      raw.push(row);
    }
    const field = smoothField(raw);
    const cells = el('g', g, 'heatmap-cells', { style: 'filter:blur(1px)' });
    const cellEvery = 2;
    for (let j = 0; j < ny; j += cellEvery) {
      for (let i = 0; i < nx; i += cellEvery) {
        el('rect', cells, 'heatmap-cell', {
          x: x0f + i * step, y: y0f + j * step, width: step * cellEvery + .5, height: step * cellEvery + .5,
          fill: colorOf(field[j + 1][i + 1])
        });
      }
    }
    contourLevels.forEach(function (lev, li) {
      let d = '';
      for (let j = 0; j < ny; j++) {
        for (let i = 0; i < nx; i++) {
          const a = field[j][i], b = field[j][i + 1], c = field[j + 1][i + 1], e = field[j + 1][i];
          const pts = [];
          const x0 = x0f + i * step, y0 = y0f + j * step;
          if ((a < lev) !== (b < lev)) pts.push([x0 + step * (lev - a) / (b - a), y0]);
          if ((b < lev) !== (c < lev)) pts.push([x0 + step, y0 + step * (lev - b) / (c - b)]);
          if ((e < lev) !== (c < lev)) pts.push([x0 + step * (lev - e) / (c - e), y0 + step]);
          if ((a < lev) !== (e < lev)) pts.push([x0, y0 + step * (lev - a) / (e - a)]);
          for (let q = 0; q + 1 < pts.length; q += 2) {
            d += 'M' + pts[q][0].toFixed(1) + ' ' + pts[q][1].toFixed(1) + 'L' + pts[q + 1][0].toFixed(1) + ' ' + pts[q + 1][1].toFixed(1);
          }
        }
      }
      el('path', g, 'contour-level-' + lev, {
        d: d, fill: 'none', stroke: li === 0 ? '#7a5a58' : '#4c4c38', 'stroke-width': li === 0 ? 1 : 1.1, 'stroke-linecap': 'round', opacity: .9
      });
    });
    const t = byId('ticks-' + letter);
    xAxis(t, fx, bottom, xLabelY, heatXTicks, heatXMinor, 13);
    heatYTicks.forEach(function (v) {
      el('path', t, 'y-tick-' + v, { d: 'M757 ' + fy(v) + 'h4', stroke: '#444', 'stroke-width': 1.2 });
      const lab = el('text', t, 'y-tick-label-' + v, { x: 748, y: fy(v) + 4, 'text-anchor': 'middle', 'font-size': 13 });
      lab.textContent = v;
    });
    heatYMinor.forEach(function (v) {
      el('path', t, 'y-minor-tick-' + v, { d: 'M759 ' + fy(v) + 'h2', stroke: '#444', 'stroke-width': 1 });
    });
  }
  heatmap('g', heatG, 79, 235, 254);
  heatmap('h', heatH, 287, 443, 462);
  heatmap('i', heatI, 498, 654, 673);
  heatmap('j', heatJ, 708, 863, 882);
})();
</script>
</body>
</html>
